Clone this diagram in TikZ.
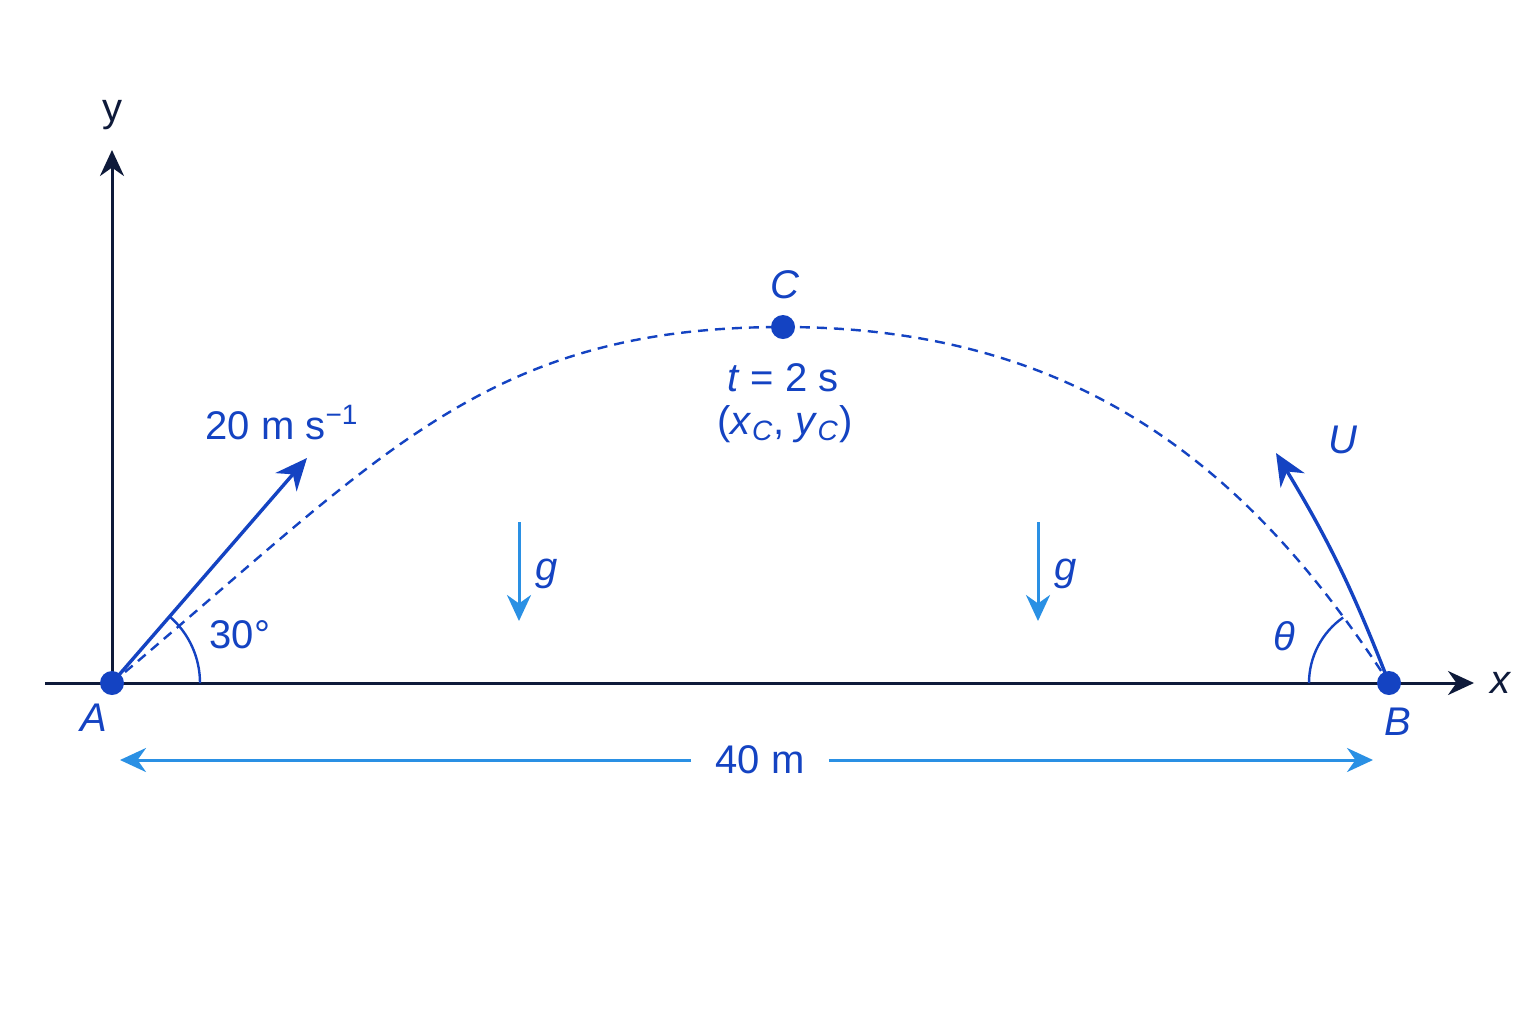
\documentclass[tikz,border=0pt]{standalone}
\usepackage{fontspec}
\setmainfont{Liberation Sans}
\usetikzlibrary{arrows.meta}

\definecolor{navy}{HTML}{0E1A3A}
\definecolor{traj}{HTML}{1443C2}
\definecolor{sky}{HTML}{2A90E4}

\begin{document}
\begin{tikzpicture}[x=0.5pt, y=-0.5pt, >={Stealth[width=12pt,length=13pt]}, dot/.style={circle, fill=traj, inner sep=0pt, minimum size=12pt}, lbl/.style={text=traj, font=\fontsize{20}{22}\selectfont}, axis/.style={navy, line width=1.5pt}, gvec/.style={sky, line width=1.5pt, ->}]
  \fill[white] (0,0) rectangle (1536,1024);
  \useasboundingbox (0,0) rectangle (1536,1024);

  \coordinate (A) at (112,683);
  \coordinate (B) at (1389,683);
  \coordinate (C) at (783,327);
  \coordinate (O) at (45,683);
  \coordinate (xend) at (1474,683);
  \coordinate (yend) at (112,150);
  \coordinate (v) at (307,458);
  \coordinate (u) at (1276,453);

  % axes
  \path[->] (O) edge[axis] (xend);
  \path[->] (A) edge[axis] (yend);
  \draw (112,115)node[text=navy, font=\fontsize{20}{22}\selectfont](ylab){y};
  \draw (1500,683)node[text=navy, font=\fontsize{20}{22}\selectfont\itshape](xlab){x};

  % trajectory
  \draw[traj, line width=1.2pt, dash pattern=on 5pt off 3.5pt] (A) .. controls (380,458) and (483,327) .. (C) .. controls (1083,327) and (1253,473) .. (B);

  % launch and landing
  \path[->, >={Stealth[width=14pt,length=16pt]}] (A) edge[traj, line width=1.7pt] (v);
  \path[->, >={Stealth[width=14pt,length=16pt]}] (B) edge[traj, line width=1.7pt, bend right=5] (u);
  \draw[traj, line width=1.2pt] (A) ++(88,0) arc[start angle=0, end angle=-49, radius=88];
  \draw[traj, line width=1.2pt] (B) ++(-80,0) arc[start angle=180, end angle=235, radius=80];

  \draw (A)node[dot](Adot){};
  \draw (B)node[dot](Bdot){};
  \draw (C)node[dot](Cdot){};

  \draw (94,718)node[lbl, font=\fontsize{20}{22}\selectfont\itshape](Alab){A};
  \draw (1398,722)node[lbl, font=\fontsize{20}{22}\selectfont\itshape](Blab){B};
  \draw (785,285)node[lbl, font=\fontsize{20}{22}\selectfont\itshape](Clab){C};
  \draw (783,378)node[lbl](tlab){\textit{t} = 2 s};
  \draw (785,424)node[lbl](clab){(\textit{x}\textsubscript{\textit{C}}, \textit{y}\textsubscript{\textit{C}})};
  \draw (282,423)node[lbl](vlab){20 m s\textsuperscript{−1}};
  \draw (240,635)node[lbl](alab){30°};
  \draw (1343,440)node[lbl, font=\fontsize{20}{22}\selectfont\itshape](ulab){U};
  \draw (1284,636)node[lbl, font=\fontsize{20}{22}\selectfont\itshape](thlab){θ};

  % gravity
  \coordinate (g1a) at (519,522);
  \coordinate (g1b) at (519,621);
  \coordinate (g2a) at (1038,522);
  \coordinate (g2b) at (1038,621);
  \path (g1a) edge[gvec] (g1b);
  \path (g2a) edge[gvec] (g2b);
  \draw (547,574)node[lbl, font=\fontsize{20}{22}\selectfont\itshape](g1lab){g};
  \draw (1066,574)node[lbl, font=\fontsize{20}{22}\selectfont\itshape](g2lab){g};

  % span
  \coordinate (s1) at (120,760);
  \coordinate (s2) at (1373,760);
  \draw (760,760)node[lbl, fill=white, inner xsep=12pt](span){40 m};
  \path[->] (span) edge[sky, line width=1.5pt] (s1);
  \path[->] (span) edge[sky, line width=1.5pt] (s2);
\end{tikzpicture}
\end{document}
